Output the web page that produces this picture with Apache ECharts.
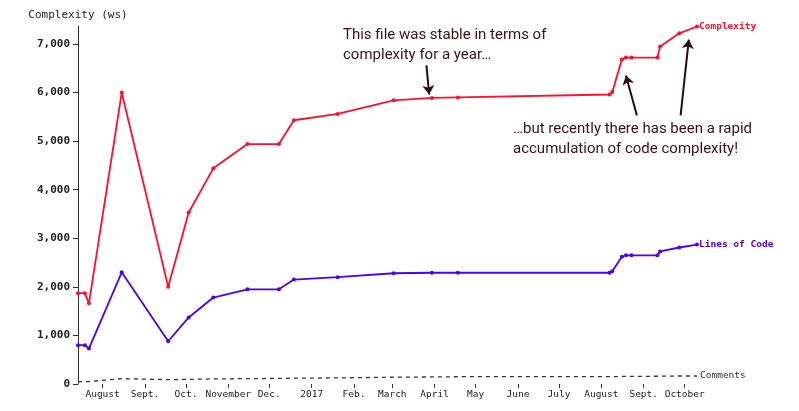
<!DOCTYPE html>
<html>
<head>
<meta charset="utf-8">
<script src="https://cdn.jsdelivr.net/npm/echarts@6/dist/echarts.min.js"></script>
<style>
  html, body { margin: 0; padding: 0; background: #fff; }
  #chart { width: 799px; height: 411px; }
</style>
</head>
<body>
<div id="chart"></div>
<script>
// commit dates
var dates = ['2016-07-14', '2016-07-19', '2016-07-22', '2016-08-15', '2016-09-18', '2016-10-03',
    '2016-10-21', '2016-11-15', '2016-12-08', '2016-12-19', '2017-01-20', '2017-03-02',
    '2017-03-30', '2017-04-18', '2017-08-07', '2017-08-09', '2017-08-16', '2017-08-19',
    '2017-08-23', '2017-09-11', '2017-09-13', '2017-09-27', '2017-10-10'];
var complexity = [1870, 1870, 1660, 6000, 2000, 3530, 4440, 4940, 4940, 5430, 5560, 5840,
    5890, 5900, 5960, 6010, 6680, 6720, 6720, 6720, 6950, 7220, 7360];
var linesOfCode = [800, 800, 730, 2300, 880, 1370, 1780, 1950, 1950, 2150, 2200, 2280,
    2290, 2290, 2290, 2320, 2620, 2650, 2650, 2650, 2730, 2810, 2870];
var comments = [50, 50, 50, 110, 90, 95, 105, 110, 115, 120, 125, 140,
    145, 150, 150, 150, 155, 155, 155, 160, 160, 165, 165];

// x axis ticks
var tickDates = ['2016-08-01', '2016-09-01', '2016-10-01', '2016-11-01', '2016-12-01', '2017-01-01',
    '2017-02-01', '2017-03-01', '2017-04-01', '2017-05-01', '2017-06-01', '2017-07-01',
    '2017-08-01', '2017-09-01', '2017-10-01'];
var tickLabels = ['August', 'Sept.', 'Oct.', 'November', 'Dec.', '2017', 'Feb.', 'March',
    'April', 'May', 'June', 'July', 'August', 'Sept.', 'October'];
var yTicks = [0, 1000, 2000, 3000, 4000, 5000, 6000, 7000];

// annotation arrows [from date, from value, to date, to value]
var arrows = [
    ['2017-03-26', 6560, '2017-03-28', 5960],
    ['2017-08-27', 5530, '2017-08-19', 6350],
    ['2017-09-28', 5530, '2017-10-04', 7090]
];

var mono = 'DejaVu Sans Mono';

// dates as day numbers (UTC)
function day(s) {
    return Date.parse(s + 'T00:00:00Z') / 86400000;
}

function pairs(vals) {
    return vals.map(function(v, k) {
        return [day(dates[k]), v];
    });
}

var tickDays = tickDates.map(day);

var arrowLines = arrows.map(function(a) {
    return [{ coord: [day(a[0]), a[1]] }, { coord: [day(a[2]), a[3]] }];
});

var chart = echarts.init(document.getElementById('chart'));
chart.setOption({
    animation: false,
    grid: {
        left: 78,
        right: 102,
        top: 26,
        bottom: 27,
        containLabel: false,
        outerBoundsMode: 'none'
    },
    xAxis: {
        type: 'value',
        min: day(dates[0]),
        max: day(dates[dates.length - 1]),
        axisLine: { show: false },
        axisTick: {
            show: true,
            length: 4,
            customValues: tickDays,
            lineStyle: { color: '#333' }
        },
        axisLabel: {
            customValues: tickDays,
            margin: 6,
            fontFamily: mono,
            fontSize: 9.5,
            color: '#222',
            formatter: function(value) {
                var i = tickDays.indexOf(value);
                return i >= 0 ? tickLabels[i] : '';
            }
        },
        splitLine: { show: false }
    },
    yAxis: {
        type: 'value',
        min: 0,
        max: 7370,
        name: 'Complexity (ws)',
        nameLocation: 'end',
        nameGap: 5,
        nameTextStyle: { fontFamily: mono, fontSize: 11, color: '#222', align: 'center' },
        axisLine: { show: true, lineStyle: { color: '#333' } },
        axisTick: {
            show: true,
            length: 5,
            customValues: yTicks,
            lineStyle: { color: '#333' }
        },
        axisLabel: {
            customValues: yTicks,
            margin: 8,
            fontFamily: mono,
            fontSize: 11,
            fontWeight: 'bold',
            color: '#222',
            formatter: function(v) {
                return v.toLocaleString('en-US');
            }
        },
        splitLine: { show: false }
    },
    series: [{
        name: 'Complexity',
        type: 'line',
        data: pairs(complexity),
        symbol: 'circle',
        symbolSize: 4,
        color: '#ff0f2d',
        lineStyle: { width: 1.8 },
        endLabel: {
            show: true,
            formatter: '{a}',
            distance: 2,
            fontFamily: mono,
            fontSize: 9.5,
            fontWeight: 'bold',
            color: '#ff0f2d'
        },
        markLine: {
            silent: true,
            symbol: ['none', 'arrow'],
            symbolSize: 9,
            label: { show: false },
            lineStyle: { color: '#2a0c12', width: 2, type: 'solid' },
            data: arrowLines
        }
    }, {
        name: 'Lines of Code',
        type: 'line',
        data: pairs(linesOfCode),
        symbol: 'circle',
        symbolSize: 4,
        color: '#4f00ee',
        lineStyle: { width: 1.8 },
        endLabel: {
            show: true,
            formatter: '{a}',
            distance: 2,
            fontFamily: mono,
            fontSize: 9.5,
            fontWeight: 'bold',
            color: '#4f00ee'
        }
    }, {
        name: 'Comments',
        type: 'line',
        data: pairs(comments),
        symbol: 'none',
        color: '#333',
        lineStyle: { width: 1.3, type: [4, 4] },
        endLabel: {
            show: true,
            formatter: '{a}',
            distance: 3,
            fontFamily: mono,
            fontSize: 9.5,
            color: '#333'
        }
    }],
    graphic: [{
        type: 'text',
        left: 343,
        top: 25,
        style: {
            text: 'This file was stable in terms of\ncomplexity for a year…',
            font: '15px Roboto',
            lineHeight: 20,
            fill: '#3d1016'
        }
    }, {
        type: 'text',
        left: 513,
        top: 119,
        style: {
            text: '…but recently there has been a rapid\naccumulation of code complexity!',
            font: '15px Roboto',
            lineHeight: 20,
            fill: '#3d1016'
        }
    }]
});
</script>
</body>
</html>
